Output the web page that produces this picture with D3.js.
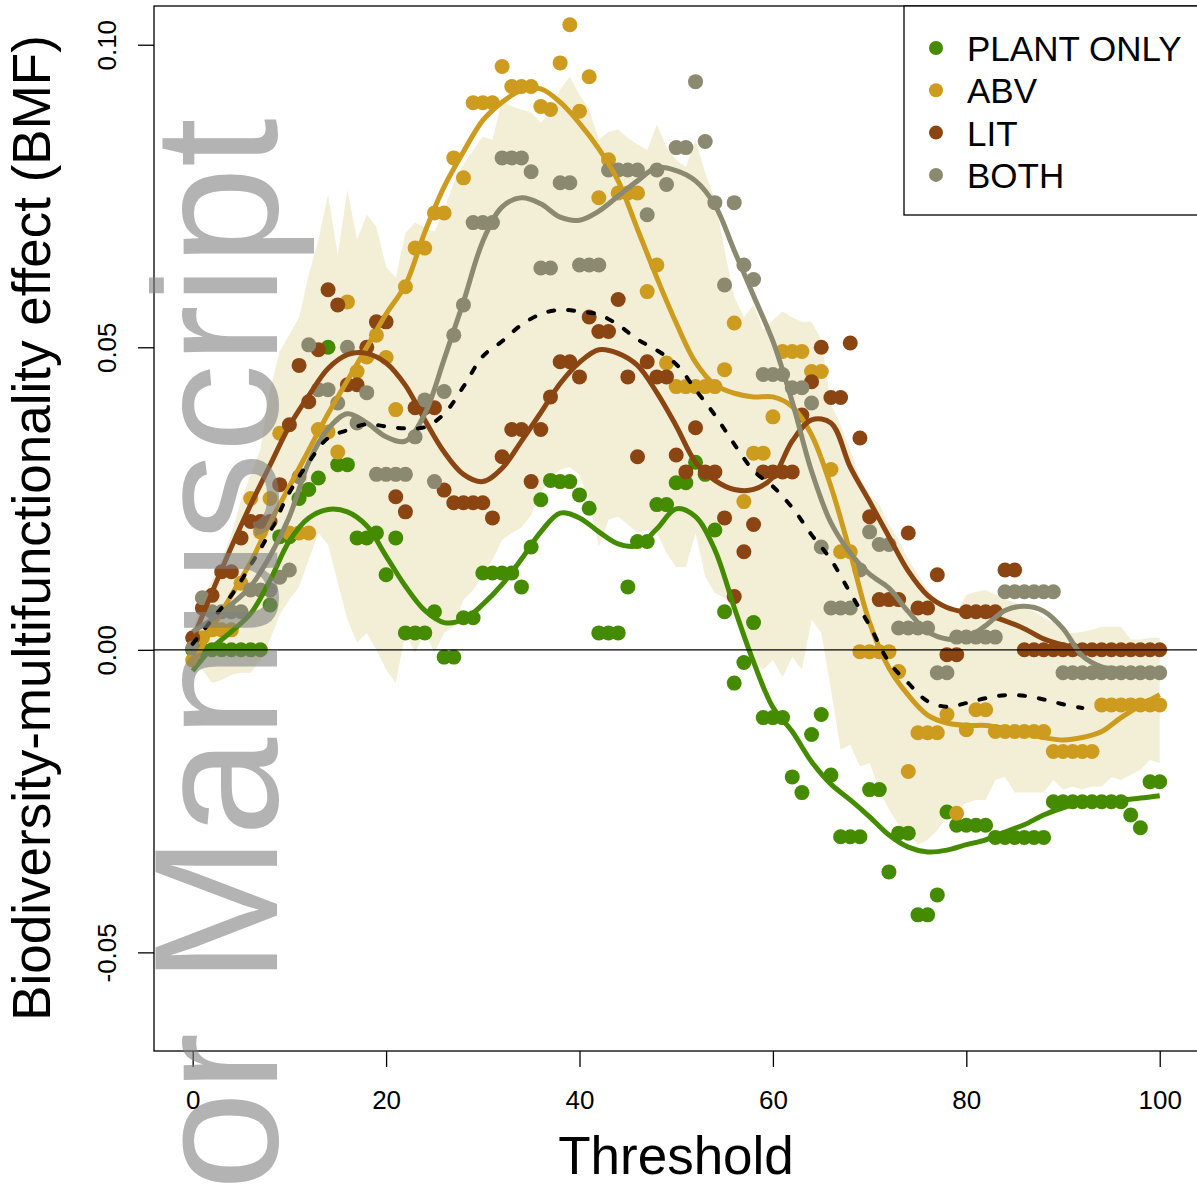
<!DOCTYPE html>
<html>
<head>
<meta charset="utf-8">
<script src="https://cdn.jsdelivr.net/npm/d3@7"></script>
<style>
  body { margin: 0; background: #fff; }
  svg { display: block; font-family: "Liberation Sans", Arial, sans-serif; }
</style>
</head>
<body>
<svg id="chart" width="1197" height="1184"></svg>
<script>
// thresholds 0..100
const thresholds = d3.range(0, 101)

// observed BMF per threshold
const plantOnly = [
  0, 0, 0, 0, 0, 0, 0, 0, 0.0074, 0.0187,
  0.0187, 0.025, 0.0265, 0.0284, 0.050, 0.0306, 0.0306, 0.0185, 0.0185, 0.0193,
  0.0124, 0.0185, 0.0028, 0.0028, 0.0028, 0.0063, -0.0012, -0.0012, 0.0053, 0.0053,
  0.0127, 0.0127, 0.0127, 0.0127, 0.0104, 0.017, 0.0248, 0.028, 0.0278, 0.0278,
  0.0256, 0.0234, 0.0028, 0.0028, 0.0028, 0.0104, 0.0179, 0.0179, 0.024, 0.024,
  0.0276, 0.0276, 0.031, 0.029, 0.0198, 0.0063, -0.0055, -0.0021, 0.0045, -0.0112,
  -0.0112, -0.0112, -0.021, -0.0236, -0.014, -0.0107, -0.0207, -0.0309, -0.0309, -0.0309,
  -0.0231, -0.0231, -0.0367, -0.0303, -0.0303, -0.0438, -0.0438, -0.0405, -0.0268, -0.029,
  -0.029, -0.029, -0.029, -0.031, -0.031, -0.031, -0.031, -0.031, -0.031, -0.0251,
  -0.0251, -0.0251, -0.0251, -0.0251, -0.0251, -0.0251, -0.0251, -0.0273, -0.0294, -0.0218,
  -0.0218
]
const abv = [
  -0.0017, 0.002, 0.0033, 0.0033, 0.0033, 0.011, 0.025, 0.0195, 0.025, 0.0358,
  0.0193, 0.0193, 0.0193, 0.0364, 0.036, 0.0327, 0.0575, 0.046, 0.0484, 0.052,
  0.0483, 0.0397, 0.060, 0.0664, 0.0664, 0.0722, 0.0722, 0.0813, 0.078, 0.0904,
  0.0904, 0.0904, 0.0964, 0.0931, 0.0931, 0.0931, 0.0898, 0.0893, 0.097, 0.1033,
  0.089, 0.0947, 0.0747, 0.081, 0.0755, 0.0755, 0.0755, 0.0592, 0.0636, 0.0474,
  0.0435, 0.0435, 0.0435, 0.0435, 0.0435, 0.0463, 0.054, 0.0245, 0.0325, 0.0325,
  0.0385, 0.0493, 0.0493, 0.0493, 0.046, 0.046, 0.0298, 0.0162, 0.0162, -0.0003,
  -0.0003, -0.0003, -0.0003, -0.0036, -0.0201, -0.0137, -0.0137, -0.0137, -0.0107, -0.027,
  -0.0132, -0.0099, -0.0099, -0.0135, -0.0135, -0.0135, -0.0135, -0.0135, -0.0135, -0.0168,
  -0.0168, -0.0168, -0.0168, -0.0168, -0.0091, -0.0091, -0.0091, -0.0091, -0.0091, -0.0091,
  -0.0091
]
const lit = [
  0.002, 0.0069, 0.009, 0.0129, 0.0129, 0.0185, 0.0212, 0.0212, 0.0212, 0.0273,
  0.0372, 0.047, 0.041, 0.0496, 0.0595, 0.057, 0.0438, 0.0438, 0.050, 0.0542,
  0.0542, 0.0253, 0.0228, 0.040, 0.040, 0.040, 0.0264, 0.0243, 0.0243, 0.0243,
  0.0243, 0.0218, 0.0319, 0.0364, 0.0364, 0.0278, 0.0364, 0.0418, 0.0476, 0.0476,
  0.0451, 0.055, 0.0526, 0.0526, 0.0579, 0.0451, 0.0319, 0.0476, 0.0451, 0.0451,
  0.0322, 0.0294, 0.0367, 0.0294, 0.0294, 0.0218, 0.0088, 0.0162, 0.0207, 0.0294,
  0.0294, 0.0294, 0.0294, 0.0388, 0.0443, 0.050, 0.0417, 0.0417, 0.0507, 0.035,
  0.022, 0.0083, 0.0083, 0.0083, 0.0193, 0.0069, 0.0069, 0.0124, -0.0008, -0.0008,
  0.0063, 0.0063, 0.0063, 0.0063, 0.0132, 0.0132, 0, 0, 0, 0,
  0, 0, 0, 0, 0, 0, 0, 0, 0, 0,
  0
]
const both = [
  0.0003, 0.0086, 0.0063, 0.0063, 0.0063, 0.0063, 0.0099, 0.0099, 0.0099, 0.012,
  0.0132, 0.0286, 0.0504, 0.043, 0.043, 0.0408, 0.050, 0.0375, 0.0425, 0.029,
  0.029, 0.029, 0.029, 0.0352, 0.0413, 0.0278, 0.0427, 0.052, 0.057, 0.0706,
  0.0706, 0.0706, 0.0813, 0.0813, 0.0813, 0.079, 0.0631, 0.0631, 0.0772, 0.0772,
  0.0636, 0.0636, 0.0636, 0.0793, 0.0793, 0.0793, 0.0793, 0.0719, 0.0793, 0.0769,
  0.083, 0.083, 0.0939, 0.084, 0.0739, 0.0603, 0.0739, 0.0636, 0.0612, 0.0455,
  0.0455, 0.0455, 0.0433, 0.0433, 0.0408, 0.017, 0.0069, 0.0069, 0.0069, 0.0132,
  0.0195, 0.0174, 0.0174, 0.0036, 0.0036, 0.0036, 0.0036, -0.0038, -0.0038, 0.0021,
  0.0021, 0.0021, 0.0021, 0.0021, 0.0096, 0.0096, 0.0096, 0.0096, 0.0096, 0.0096,
  -0.0038, -0.0038, -0.0038, -0.0038, -0.0038, -0.0038, -0.0038, -0.0038, -0.0038, -0.0038,
  -0.0038
]

// shaded envelope
const bandUpper = [
  0.0033, 0.0083, 0.0116, 0.0149, 0.019, 0.0248, 0.0289, 0.0331, 0.043, 0.0493,
  0.0521, 0.0549, 0.062, 0.0678, 0.0752, 0.0653, 0.076, 0.0678, 0.0719, 0.0699,
  0.0633, 0.0615, 0.0689, 0.0706, 0.0698, 0.0691, 0.0727, 0.0772, 0.0802, 0.0826,
  0.0848, 0.0843, 0.0909, 0.0898, 0.0893, 0.0888, 0.0871, 0.0888, 0.0926, 0.0947,
  0.0917, 0.0893, 0.0843, 0.0856, 0.086, 0.0846, 0.0835, 0.0826, 0.0868, 0.0831,
  0.081, 0.0798, 0.0843, 0.0788, 0.0744, 0.0661, 0.0583, 0.055, 0.057, 0.0529,
  0.0545, 0.0559, 0.0549, 0.0542, 0.0542, 0.0512, 0.0405, 0.0372, 0.0331, 0.0284,
  0.0256, 0.024, 0.0207, 0.0182, 0.0149, 0.0124, 0.0099, 0.0083, 0.0066, 0.0061,
  0.0091, 0.0096, 0.0099, 0.0091, 0.0083, 0.0078, 0.0071, 0.0063, 0.0053, 0.0046,
  0.0028, 0.0028, 0.003, 0.0033, 0.0038, 0.0038, 0.0038, 0.0017, 0.0017, 0.002,
  0.002
]
const bandLower = [
  -0.0017, -0.0033, -0.0055, -0.005, -0.0041, -0.0038, -0.0038, -0.0017, 0.0017, 0.0058,
  0.0083, 0.0104, 0.0149, 0.0193, 0.0174, 0.0111, 0.005, 0.0012, 0.0028, 0,
  -0.0033, -0.0055, 0.0028, -0.0005, 0.0028, -0.0005, 0.0028, 0.0038, 0.0083, 0.0099,
  0.0124, 0.0149, 0.0182, 0.0193, 0.0202, 0.0223, 0.026, 0.0281, 0.0298, 0.0302,
  0.0289, 0.0248, 0.017, 0.0215, 0.022, 0.0207, 0.0193, 0.0198, 0.0193, 0.016,
  0.0137, 0.0137, 0.0193, 0.0121, 0.0094, 0.0086, 0.0066, 0.0028, -0.0017, -0.0033,
  -0.0017, -0.0045, -0.0012, -0.0033, 0.005, 0.0028, -0.0066, -0.0165, -0.0157, -0.0193,
  -0.0187, -0.0231, -0.0264, -0.0289, -0.0306, -0.0322, -0.0314, -0.0298, -0.0276, -0.0264,
  -0.0253, -0.0248, -0.0248, -0.0215, -0.021, -0.0236, -0.0236, -0.0236, -0.0236, -0.0215,
  -0.0231, -0.0226, -0.0231, -0.0226, -0.0226, -0.021, -0.0215, -0.0207, -0.0198, -0.0182,
  -0.0187
]

// smoothed fits, every 2nd threshold
const fitT = d3.range(0, 101, 2)
const plantFit = [
  -0.0035, 0.0003, 0.003, 0.006, 0.0115, 0.018, 0.0218, 0.0232, 0.0228, 0.0205,
  0.0155, 0.0105, 0.0065, 0.0045, 0.005, 0.0075, 0.0108, 0.015, 0.0195, 0.0226,
  0.0218, 0.0195, 0.0175, 0.0172, 0.020, 0.0233, 0.022, 0.0165, 0.007, -0.002,
  -0.0095, -0.0135, -0.0185, -0.0222, -0.0248, -0.0276, -0.0306, -0.0326, -0.0334, -0.0331,
  -0.0322, -0.0314, -0.0301, -0.0289, -0.0273, -0.0261, -0.0253, -0.0248, -0.0248, -0.0245,
  -0.0241
]
const abvFit = [
  -0.0025, 0.0035, 0.009, 0.0145, 0.021, 0.027, 0.033, 0.039, 0.0445, 0.050,
  0.0555, 0.0603, 0.069, 0.0765, 0.0823, 0.0875, 0.0905, 0.0925, 0.0927, 0.0905,
  0.087, 0.0828, 0.0775, 0.0695, 0.0615, 0.054, 0.0475, 0.0438, 0.0424, 0.0418,
  0.0418, 0.0402, 0.0355, 0.027, 0.016, 0.0045, -0.003, -0.0075, -0.0108, -0.0121,
  -0.0125, -0.0125, -0.013, -0.0137, -0.0145, -0.0149, -0.0145, -0.0135, -0.0112, -0.0092,
  -0.0074
]
const litFit = [
  0.0017, 0.0095, 0.017, 0.024, 0.0305, 0.037, 0.042, 0.0465, 0.0488, 0.049,
  0.0474, 0.0437, 0.038, 0.0327, 0.029, 0.0278, 0.030, 0.0345, 0.0392, 0.044,
  0.0475, 0.0496, 0.049, 0.047, 0.0425, 0.037, 0.031, 0.028, 0.0265, 0.0265,
  0.0285, 0.0345, 0.038, 0.0375, 0.0302, 0.0245, 0.0187, 0.013, 0.009, 0.007,
  0.0062, 0.0058, 0.0048, 0.0035, 0.0018, 0.0008, 0.0002, 0, 0, 0,
  0
]
const bothFit = [
  0.003, 0.005, 0.0075, 0.0105, 0.0155, 0.022, 0.031, 0.0365, 0.039, 0.0375,
  0.0352, 0.0345, 0.039, 0.048, 0.0575, 0.0675, 0.0732, 0.0747, 0.0737, 0.0715,
  0.071, 0.0725, 0.075, 0.0775, 0.0797, 0.0792, 0.0775, 0.0735, 0.066, 0.0585,
  0.051, 0.041, 0.0295, 0.021, 0.016, 0.0125, 0.0102, 0.0063, 0.003, 0.0018,
  0.002, 0.004, 0.0065, 0.0072, 0.0064, 0.0035, -0.001, -0.0028, -0.0032, -0.0033,
  -0.0033
]
// overall mean fit (dashed), thresholds 0..92
const meanT = d3.range(0, 93, 2)
const meanFit = [
  0.001, 0.005, 0.009, 0.014, 0.0195, 0.026, 0.031, 0.035, 0.0363, 0.0373,
  0.0369, 0.0366, 0.0368, 0.039, 0.0435, 0.0485, 0.051, 0.0537, 0.0555, 0.0562,
  0.0559, 0.0554, 0.0537, 0.0513, 0.0495, 0.0472, 0.043, 0.0388, 0.034, 0.0296,
  0.027, 0.0235, 0.019, 0.0149, 0.0094, 0.004, -0.002, -0.0055, -0.0085, -0.0094,
  -0.0088, -0.008, -0.0075, -0.0076, -0.0082, -0.009, -0.0096
]

const seriesNames = ['PLANT ONLY', 'ABV', 'LIT', 'BOTH']
const seriesColors = ['#458B00', '#CD9B1D', '#8B4513', '#8B8970']
const seriesPoints = [plantOnly, abv, lit, both]
const seriesFits = [plantFit, abvFit, litFit, bothFit]

const xTicks = [0, 20, 40, 60, 80, 100]
const yTicks = [-0.05, 0, 0.05, 0.10]

// layout
const plotLeft = 154, plotRight = 1198.4, plotTop = 6, plotBottom = 1051

const svg = d3.select('#chart')

const x = d3.scaleLinear().domain([-4, 104]).range([plotLeft, plotRight])
const y = d3.scaleLinear().domain([-0.0663, 0.1064]).range([plotBottom, plotTop])

// envelope
const band = d3.area()
  .x((d, i) => x(thresholds[i]))
  .y0((d, i) => y(bandLower[i]))
  .y1((d, i) => y(bandUpper[i]))
svg.append('path')
  .datum(bandUpper)
  .attr('d', band)
  .attr('fill', '#f2efd6')

// points
seriesPoints.forEach((vals, s) => {
  svg.append('g')
    .selectAll('circle')
    .data(vals)
    .enter()
    .append('circle')
    .attr('cx', (d, i) => x(thresholds[i]))
    .attr('cy', d => y(d))
    .attr('r', 7.5)
    .attr('fill', seriesColors[s])
})

// smoothed lines
const fitLine = d3.line()
  .x((d, i) => x(fitT[i]))
  .y(d => y(d))
  .curve(d3.curveCatmullRom)

seriesFits.forEach((vals, s) => {
  svg.append('path')
    .datum(vals)
    .attr('d', fitLine)
    .attr('fill', 'none')
    .attr('stroke', seriesColors[s])
    .attr('stroke-width', 5)
})

const meanLine = d3.line()
  .x((d, i) => x(meanT[i]))
  .y(d => y(d))
  .curve(d3.curveCatmullRom)
svg.append('path')
  .datum(meanFit)
  .attr('d', meanLine)
  .attr('fill', 'none')
  .attr('stroke', '#000')
  .attr('stroke-width', 4)
  .attr('stroke-linecap', 'round')
  .attr('stroke-dasharray', '6,14')

// zero line
svg.append('line')
  .attr('x1', plotLeft).attr('x2', plotRight)
  .attr('y1', y(0)).attr('y2', y(0))
  .attr('stroke', '#000')
  .attr('stroke-width', 1.3)

// box
svg.append('rect')
  .attr('x', plotLeft).attr('y', plotTop)
  .attr('width', plotRight - plotLeft).attr('height', plotBottom - plotTop)
  .attr('fill', 'none')
  .attr('stroke', '#000')
  .attr('stroke-width', 1.3)

// x axis
const xAxis = svg.append('g')
  .attr('transform', `translate(0, ${plotBottom})`)
  .call(d3.axisBottom(x).tickValues(xTicks).tickSize(16).tickPadding(24).tickFormat(d3.format('d')))
xAxis.select('.domain').remove()
xAxis.selectAll('.tick line').attr('stroke-width', 1.3)
xAxis.selectAll('.tick text')
  .attr('font-size', 26)
  .attr('font-family', '"Liberation Sans", Arial, sans-serif')
  .attr('fill', '#000')

// y axis
const yAxis = svg.append('g')
  .attr('transform', `translate(${plotLeft}, 0)`)
  .call(d3.axisLeft(y).tickValues(yTicks).tickSize(16).tickFormat(d => d.toFixed(2)))
yAxis.select('.domain').remove()
yAxis.selectAll('.tick line').attr('stroke-width', 1.3)
yAxis.selectAll('.tick text')
  .attr('x', 0)
  .attr('dy', 0)
  .attr('transform', 'translate(-38,0) rotate(-90)')
  .attr('text-anchor', 'middle')
  .attr('font-size', 26)
  .attr('font-family', '"Liberation Sans", Arial, sans-serif')
  .attr('fill', '#000')

// axis titles
svg.append('text')
  .attr('x', 676).attr('y', 1174)
  .attr('text-anchor', 'middle')
  .attr('font-size', 53)
  .text('Threshold')

svg.append('text')
  .attr('transform', 'translate(50, 528) rotate(-90)')
  .attr('text-anchor', 'middle')
  .attr('font-size', 53)
  .text('Biodiversity-multifunctionality effect (BMF)')

// legend
const legend = svg.append('g')
legend.append('rect')
  .attr('x', 904).attr('y', plotTop)
  .attr('width', plotRight - 904).attr('height', 209)
  .attr('fill', '#fff')
  .attr('stroke', '#000')
  .attr('stroke-width', 1.3)
seriesNames.forEach((name, i) => {
  const ly = 48 + i * 42.3
  legend.append('circle')
    .attr('cx', 936).attr('cy', ly).attr('r', 7)
    .attr('fill', seriesColors[i])
  legend.append('text')
    .attr('x', 967).attr('y', ly + 13)
    .attr('font-size', 35)
    .text(name)
})

// watermark
svg.append('text')
  .attr('transform', 'translate(277, 118) rotate(-90)')
  .attr('text-anchor', 'end')
  .attr('font-size', 177)
  .attr('fill', 'rgba(128,128,128,0.6)')
  .text('Author Manuscript')
</script>
</body>
</html>
